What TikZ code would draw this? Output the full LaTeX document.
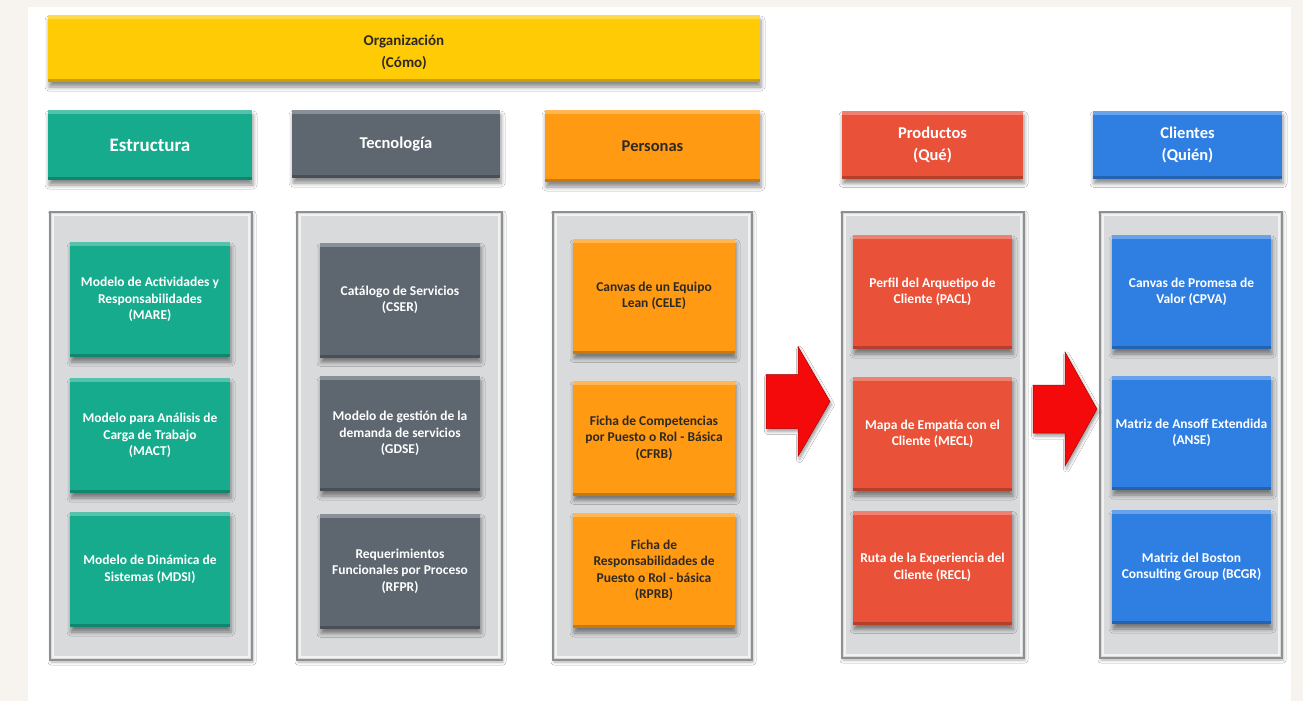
\documentclass[tikz,border=0pt]{standalone}
\usepackage{fontspec}
\setmainfont{Carlito}
\usetikzlibrary{shadows.blur,calc}

\definecolor{pageBg}{HTML}{F7F3EF}
\definecolor{orgYellow}{HTML}{FFCB05}
\definecolor{estTeal}{HTML}{16AB8C}
\definecolor{tecGray}{HTML}{5E666F}
\definecolor{perOrange}{HTML}{FF9A12}
\definecolor{proRed}{HTML}{EA5139}
\definecolor{cliBlue}{HTML}{2F7FE3}
\definecolor{panelFill}{HTML}{D9DADB}
\definecolor{panelEdge}{HTML}{8E9092}
\definecolor{darkText}{HTML}{2E2A22}
\definecolor{arrowRed}{HTML}{F40A0A}

\tikzset{
  bevel/.style={
    path picture={
      \fill[white,opacity=.28] (path picture bounding box.north west)
        rectangle ([yshift=-4pt]path picture bounding box.north east);
      \fill[black,opacity=.22] ([yshift=3pt]path picture bounding box.south west)
        rectangle (path picture bounding box.south east);
    }},
  softshadow/.style={blur shadow={shadow xshift=1pt,shadow yshift=-5pt,
      shadow blur radius=4pt,shadow opacity=45}},
  header/.style={rectangle,align=center,inner sep=2pt,bevel,softshadow,
      font=\bfseries\fontsize{16.5}{22}\selectfont},
  tile/.style={rectangle,align=center,inner sep=2pt,bevel,softshadow,
      minimum width=160pt,minimum height=115pt,
      font=\bfseries\fontsize{13.5}{16.5}\selectfont},
  panel/.style={rectangle,fill=panelFill,draw=panelEdge,line width=2.5pt,
      blur shadow={shadow xshift=1pt,shadow yshift=-2pt,shadow blur radius=3pt,shadow opacity=30},
      path picture={
        \draw[white,opacity=.65,line width=2pt]
          ([shift={(3pt,-3pt)}]path picture bounding box.north west)
          rectangle ([shift={(-3pt,3pt)}]path picture bounding box.south east);
      }},
  blockarrow/.style={fill=arrowRed,draw=arrowRed!70!black,line width=.5pt,line join=miter,
      blur shadow={shadow xshift=1.5pt,shadow yshift=-3pt,shadow blur radius=3pt,shadow opacity=40}},
  est/.style={fill=estTeal,text=white},
  tec/.style={fill=tecGray,text=white},
  per/.style={fill=perOrange,text=darkText},
  pro/.style={fill=proRed,text=white},
  cli/.style={fill=cliBlue,text=white}
}

\begin{document}
\begin{tikzpicture}[x=1pt,y=-1pt]
  \useasboundingbox (0,0) rectangle (1303,701);
  % page frame
  \fill[pageBg] (0,0) rectangle (1303,701);
  \fill[white] (28,7) rectangle (1291,701);

  % top banner
  \node[header,fill=orgYellow,minimum width=712pt,minimum height=67pt]
    (org) at (404,48.5) {};
  \node[text=darkText,align=center,font=\bfseries\fontsize{15}{22}\selectfont]
    (orgText) at ([yshift=-4pt]org.center) {Organización\\(Cómo)};

  % column headers
  \node[header,est,minimum width=204pt,minimum height=70pt,
        font=\bfseries\fontsize{19}{22}\selectfont] (hEst) at (150,145) {Estructura};
  \node[header,tec,minimum width=208pt,minimum height=68pt] (hTec) at (396,144) {Tecnología};
  \node[header,per,minimum width=215pt,minimum height=72pt] (hPer) at (652.5,146) {Personas};
  \node[header,pro,minimum width=181pt,minimum height=68pt] (hPro) at (932.5,144.5) {Productos\\(Qué)};
  \node[header,cli,minimum width=189pt,minimum height=68pt] (hCli) at (1187.5,144.5) {Clientes\\(Quién)};

  % column panels
  \node[panel,minimum width=202pt,minimum height=448pt] (pEst) at (151,436) {};
  \node[panel,minimum width=205pt,minimum height=448pt] (pTec) at (399.5,436) {};
  \node[panel,minimum width=199pt,minimum height=448pt] (pPer) at (652.5,436) {};
  \node[panel,minimum width=182pt,minimum height=446pt] (pPro) at (933,435) {};
  \node[panel,minimum width=182pt,minimum height=446pt] (pCli) at (1191,435) {};

  % Estructura
  \node[tile,est] (e1) at (150,299.5) {Modelo de Actividades y\\Responsabilidades\\(MARE)};
  \node[tile,est] (e2) at (150,435.5) {Modelo para Análisis de\\Carga de Trabajo\\(MACT)};
  \node[tile,est] (e3) at (150,569.5) {Modelo de Dinámica de\\Sistemas (MDSI)};

  % Tecnología
  \node[tile,tec] (t1) at (400,300) {Catálogo de Servicios\\(CSER)};
  \node[tile,tec] (t2) at (400,433.5) {Modelo de gestión de la\\demanda de servicios\\(GDSE)};
  \node[tile,tec] (t3) at (400,571) {Requerimientos\\Funcionales por Proceso\\(RFPR)};

  % Personas
  \node[tile,per,minimum width=162pt] (r1) at (654,296) {Canvas de un Equipo\\Lean (CELE)};
  \node[tile,per,minimum width=162pt] (r2) at (654,438) {Ficha de Competencias\\por Puesto o Rol - Básica\\(CFRB)};
  \node[tile,per,minimum width=162pt] (r3) at (654,570.5) {Ficha de\\Responsabilidades de\\Puesto o Rol - básica\\(RPRB)};

  % Productos
  \node[tile,pro,minimum width=159pt,minimum height=114pt] (d1) at (932.5,292) {Perfil del Arquetipo de\\Cliente (PACL)};
  \node[tile,pro,minimum width=159pt,minimum height=114pt] (d2) at (932.5,434) {Mapa de Empatía con el\\Cliente (MECL)};
  \node[tile,pro,minimum width=159pt,minimum height=114pt] (d3) at (932.5,567.5) {Ruta de la Experiencia del\\Cliente (RECL)};

  % Clientes
  \node[tile,cli,minimum width=159pt,minimum height=114pt] (c1) at (1191.5,292) {Canvas de Promesa de\\Valor (CPVA)};
  \node[tile,cli,minimum width=159pt,minimum height=114pt] (c2) at (1191.5,433) {Matriz de Ansoff Extendida\\(ANSE)};
  \node[tile,cli,minimum width=159pt,minimum height=114pt] (c3) at (1191.5,567) {Matriz del Boston\\Consulting Group (BCGR)};

  % flow arrows between columns (block arrows centred between the panels)
  \coordinate (a1) at ($(pPer.east)!0.5!(pPro.west)+(1,-34)$);
  \coordinate (a2) at ($(pPro.east)!0.5!(pCli.west)+(3,-26)$);
  \draw[blockarrow] ([shift={(-32,-27)}]a1) -- ([shift={(0,-27)}]a1) -- ([shift={(0,-55)}]a1)
    -- ([shift={(32,0)}]a1) -- ([shift={(0,55)}]a1) -- ([shift={(0,27)}]a1)
    -- ([shift={(-32,27)}]a1) -- cycle;
  \draw[blockarrow] ([shift={(-32,-24)}]a2) -- ([shift={(0,-24)}]a2) -- ([shift={(0,-57)}]a2)
    -- ([shift={(32,0)}]a2) -- ([shift={(0,57)}]a2) -- ([shift={(0,24)}]a2)
    -- ([shift={(-32,24)}]a2) -- cycle;
\end{tikzpicture}
\end{document}
